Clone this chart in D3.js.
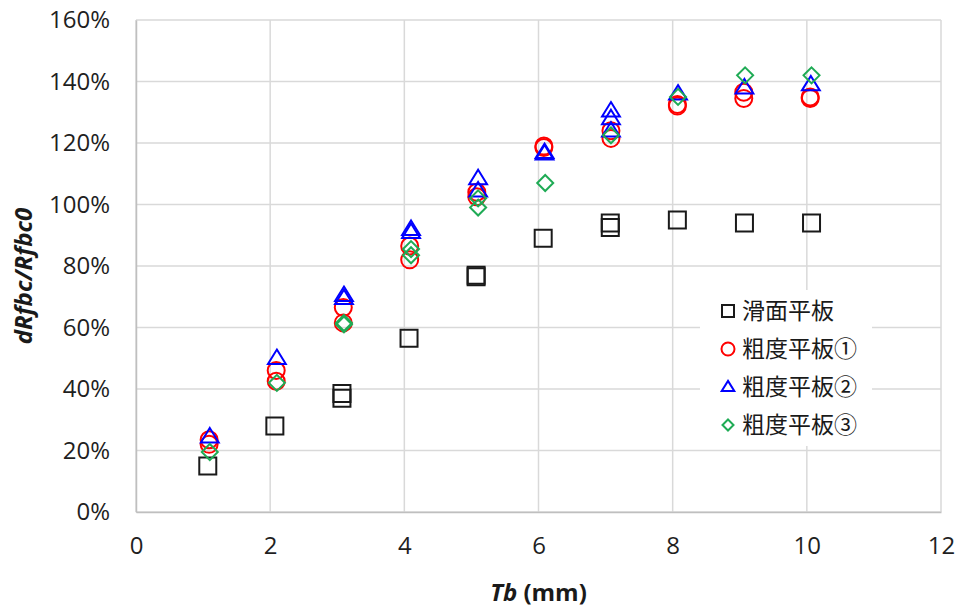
<!DOCTYPE html>
<html>
<head>
<meta charset="utf-8">
<script src="https://cdn.jsdelivr.net/npm/d3@7"></script>
<style>
  body { margin: 0; background: #fff; }
  svg { font-family: "Open Sans", "Liberation Sans", sans-serif; }
</style>
</head>
<body>
<div id="chart"></div>
<script>
// x positions (mm) and values (ratio) per series
var xSmooth = [1.07, 2.07, 3.07, 3.07, 4.07, 5.07, 5.07, 6.07, 7.07, 7.07, 8.07, 9.07, 10.07];
var ySmooth = [0.15, 0.28, 0.385, 0.37, 0.565, 0.77, 0.765, 0.89, 0.94, 0.925, 0.95, 0.94, 0.94];

var xRough1 = [1.09, 1.09, 2.09, 2.09, 3.09, 3.09, 4.08, 4.08, 5.08, 5.08, 6.08, 6.08, 7.08, 7.08, 8.07, 8.07, 9.06, 9.06, 10.05, 10.05];
var yRough1 = [0.235, 0.22, 0.46, 0.425, 0.665, 0.615, 0.865, 0.82, 1.04, 1.025, 1.19, 1.185, 1.24, 1.215, 1.325, 1.32, 1.365, 1.345, 1.35, 1.345];

var xRough2 = [1.1, 2.1, 3.1, 3.1, 4.1, 4.1, 5.1, 5.1, 6.09, 6.09, 7.08, 7.08, 7.08, 8.08, 9.07, 10.06];
var yRough2 = [0.245, 0.50, 0.705, 0.695, 0.92, 0.91, 1.085, 1.045, 1.17, 1.165, 1.305, 1.28, 1.24, 1.36, 1.38, 1.39];

var xRough3 = [1.1, 2.1, 3.1, 3.1, 4.1, 4.1, 5.1, 5.1, 6.1, 7.08, 8.08, 9.08, 10.07];
var yRough3 = [0.195, 0.42, 0.615, 0.61, 0.855, 0.835, 1.02, 0.99, 1.07, 1.225, 1.35, 1.42, 1.42];

var xTicks = [0, 2, 4, 6, 8, 10, 12];
var yTicks = [0, 0.2, 0.4, 0.6, 0.8, 1.0, 1.2, 1.4, 1.6];

var seriesNames = ["滑面平板", "粗度平板①", "粗度平板②", "粗度平板③"];
var seriesColors = ["#1a1a1a", "#ff0000", "#0000ff", "#1fab55"];

var series = [
  { x: xSmooth, y: ySmooth },
  { x: xRough1, y: yRough1 },
  { x: xRough2, y: yRough2 },
  { x: xRough3, y: yRough3 }
];

// marker shapes drawn around (0,0), s = half-size
function marker(i, s) {
  if (i === 0) return "M" + (-s) + "," + (-s) + "H" + s + "V" + s + "H" + (-s) + "Z";
  if (i === 1) return d3.symbol().type(d3.symbolCircle).size(Math.PI * s * s)();
  if (i === 2) {
    var h = s * 1.7;
    return "M0," + (-h * 0.6) + "L" + s * 1.05 + "," + (h * 0.4) + "L" + (-s * 1.05) + "," + (h * 0.4) + "Z";
  }
  return "M0," + (-s) + "L" + s + ",0L0," + s + "L" + (-s) + ",0Z";
}

var W = 956, H = 610;
var margin = { top: 20, right: 15, bottom: 98, left: 136 };
var width = W - margin.left - margin.right,
    height = H - margin.top - margin.bottom;

var x = d3.scaleLinear().domain([0, 12]).range([0, width]);
var y = d3.scaleLinear().domain([0, 1.6]).range([height, 0]);

var svg = d3.select("#chart").append("svg")
    .attr("width", W)
    .attr("height", H);

var g = svg.append("g")
    .attr("transform", "translate(" + margin.left + "," + margin.top + ")");

// grid
g.append("g")
  .selectAll("line")
  .data(yTicks)
  .enter().append("line")
    .attr("x1", 0).attr("x2", width)
    .attr("y1", function(d) { return y(d); })
    .attr("y2", function(d) { return y(d); })
    .attr("stroke", "#d9d9d9").attr("stroke-width", 1.5);

g.append("g")
  .selectAll("line")
  .data(xTicks)
  .enter().append("line")
    .attr("x1", function(d) { return x(d); })
    .attr("x2", function(d) { return x(d); })
    .attr("y1", 0).attr("y2", height)
    .attr("stroke", "#d9d9d9").attr("stroke-width", 1.5);

// axes
var xAxis = g.append("g")
    .attr("transform", "translate(0," + height + ")")
    .call(d3.axisBottom(x).tickValues(xTicks).tickSize(0).tickPadding(25));
var yAxis = g.append("g")
    .call(d3.axisLeft(y).tickValues(yTicks).tickSize(0).tickPadding(26)
      .tickFormat(function(d) { return Math.round(d * 100) + "%"; }));

[xAxis, yAxis].forEach(function(a) {
  a.select(".domain").attr("stroke", "#bfbfbf").attr("stroke-width", 1.5);
  a.selectAll("text").attr("font-size", 24).attr("fill", "#1f1f1f")
    .attr("font-family", "'Open Sans', sans-serif");
});

// points
series.forEach(function(s, i) {
  var pts = s.x.map(function(v, j) { return { x: v, y: s.y[j] }; });
  var half = [8.5, 8.5, 8.5, 8][i];
  g.append("g").selectAll("path")
    .data(pts)
    .enter().append("path")
      .attr("d", marker(i, half))
      .attr("transform", function(d) { return "translate(" + x(d.x) + "," + y(d.y) + ")"; })
      .attr("fill", "none")
      .attr("stroke", seriesColors[i])
      .attr("stroke-width", 2);
});

// legend
var legend = svg.append("g").attr("transform", "translate(700,290)");
legend.append("rect")
  .attr("x", 0).attr("y", 0).attr("width", 172).attr("height", 156)
  .attr("fill", "#fff");
seriesNames.forEach(function(name, i) {
  var row = legend.append("g").attr("transform", "translate(0," + (21 + i * 38) + ")");
  row.append("path")
    .attr("d", marker(i, [6, 6.5, 6, 5.5][i]))
    .attr("transform", "translate(28,0)")
    .attr("fill", "none")
    .attr("stroke", seriesColors[i])
    .attr("stroke-width", 2);
  row.append("text")
    .attr("x", 42).attr("y", 0).attr("dy", "0.36em")
    .attr("font-family", "'Noto Sans CJK JP', sans-serif")
    .attr("font-size", 23)
    .attr("fill", "#1a1a1a")
    .text(name);
});

// axis titles
svg.append("text")
  .attr("transform", "translate(32," + (margin.top + height / 2 + 10) + ") rotate(-90)")
  .attr("text-anchor", "middle")
  .attr("font-size", 24)
  .attr("font-weight", "bold")
  .attr("font-style", "italic")
  .attr("fill", "#1a1a1a")
  .text("dRfbc/Rfbc0");

var xt = svg.append("text")
  .attr("x", margin.left + width / 2)
  .attr("y", 601)
  .attr("text-anchor", "middle")
  .attr("font-size", 24)
  .attr("font-weight", "bold")
  .attr("fill", "#1a1a1a");
xt.append("tspan").attr("font-style", "italic").text("Tb");
xt.append("tspan").text(" (mm)");
</script>
</body>
</html>
